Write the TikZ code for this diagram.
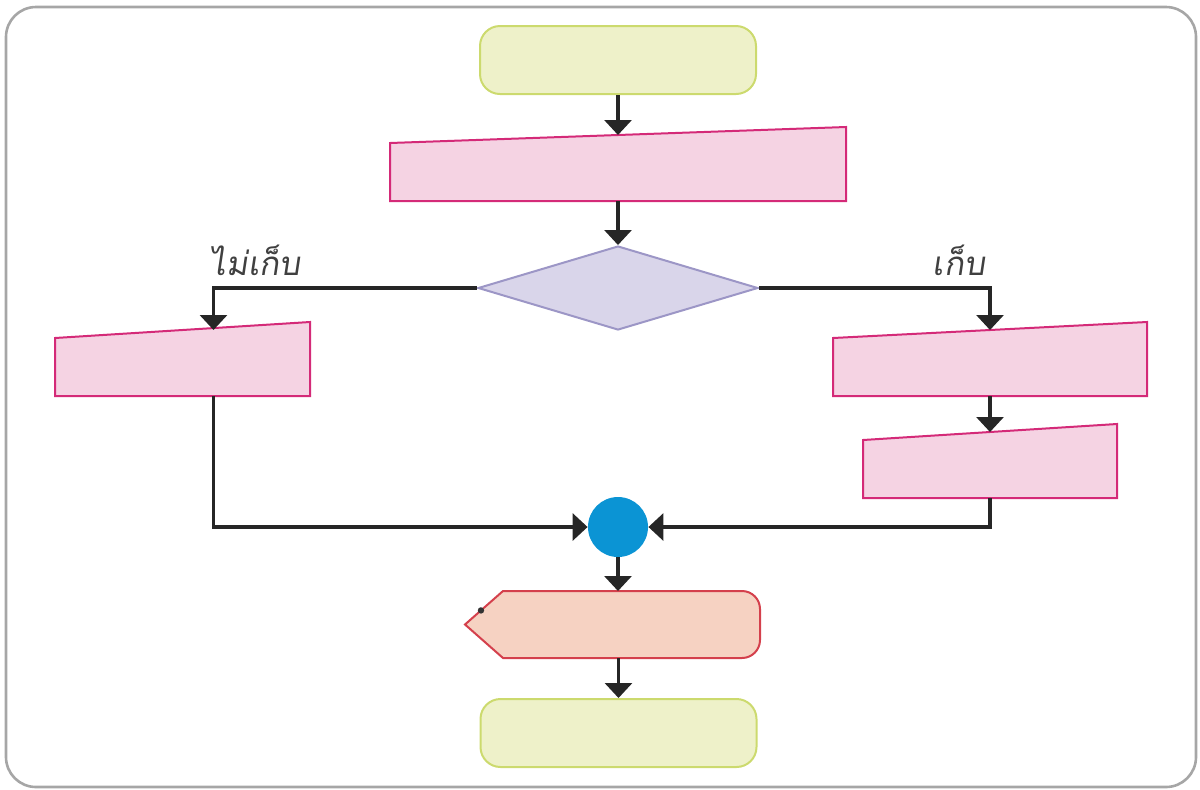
\documentclass[tikz,border=0pt]{standalone}
\usepackage{fontspec}
\newfontfamily\thaifont[Script=Thai,FakeSlant=0.15]{Loma}
\usetikzlibrary{positioning,calc,shapes.geometric,arrows.meta}
\definecolor{termfill}{HTML}{EEF1C9}
\definecolor{termline}{HTML}{CCDA6E}
\definecolor{infill}{HTML}{F5D3E3}
\definecolor{inline}{HTML}{D42A78}
\definecolor{decfill}{HTML}{D9D5EA}
\definecolor{decline}{HTML}{9C96C6}
\definecolor{jointfill}{HTML}{0B94D4}
\definecolor{showfill}{HTML}{F6D2C2}
\definecolor{showline}{HTML}{D4404C}
\tikzset{node distance=20pt,
	frame/.style={draw=gray!70,line width=1.3pt,rounded corners=15pt},
	terminal/.style={draw=termline,fill=termfill,line width=1pt,rounded corners=10pt,minimum width=138pt,minimum height=34pt},
	inbox/.style={minimum height=33pt,inner sep=0pt,outer sep=0pt},
	inshape/.style={draw=inline,fill=infill,line width=1pt},
	decision/.style={diamond,draw=decline,fill=decfill,line width=1pt,minimum width=140pt,minimum height=42pt,inner sep=0pt},
	joint/.style={circle,fill=jointfill,minimum size=30pt,inner sep=0pt},
	showbox/.style={minimum width=147.5pt,minimum height=33.5pt,inner sep=0pt,outer sep=0pt},
	showshape/.style={draw=showline,fill=showfill,line width=1pt},
	arr/.style={draw=black!85,line width=1.6pt,-{Triangle[width=13.5pt,length=7.5pt]}},
	lbl/.style={font=\thaifont\fontsize{16.5}{20}\selectfont,text=black!75,anchor=base}}
\newcommand{\slanted}[1]{\path[inshape] (#1.south west) -- (#1.south east) -- ($(#1.north east)+(0,-8)$) -- ($(#1.north west)+(0,8)$) -- cycle;}
\begin{document}
\begin{tikzpicture}[x=0.5pt,y=-0.5pt]
				\useasboundingbox (0,0) rectangle (1200,789);
				\draw[frame] (6,7) rectangle (1196,787);

				\node[terminal] (start) at (618,60) {};
				\node[inbox,minimum width=228pt] (read) [below=of start] {};
				\node[decision] (keep) [below=22pt of read] {};
				\node[inbox,minimum width=127.5pt] (skip) at (182.5,363) {};
				\node[inbox,minimum width=157pt] (save) at (990,363) {};
				\node[inbox,minimum width=127pt] (count) [below=18pt of save] {};
				\node[joint] (join) at (618,527) {};
				\node[showbox] (show) at (612.5,624.5) {};
				\node[terminal] (stop) [below=of show,xshift=3pt] {};

				\slanted{read}
				\slanted{skip}
				\slanted{save}
				\slanted{count}

				\coordinate (showtip) at ($(show.north west)+(38,0)$);
				\path[showshape] (show.west) -- (showtip) [rounded corners=9pt] -- (show.north east) -- (show.south east) [sharp corners] -- ($(show.south west)+(38,0)$) -- cycle;
				\fill[black!80] ($(show.west)!0.42!(showtip)$) circle (1.6pt);

				\node[lbl] (nolbl) at (255,275) {ไม่เก็บ};
				\node[lbl] (yeslbl) at (959,275) {เก็บ};

				\draw[arr] (start.south) -- (start.south |- read.north);
				\draw[arr] (read.south -| keep.north) -- (keep.north);
				\draw[arr] (keep.west) -| ($(skip.north)+(31,0)$);
				\draw[arr] (keep.east) -| (save.north);
				\draw[arr] (save.south) -- (count.north);
				\draw[arr] ($(skip.south)+(31,0)$) |- (join.west);
				\draw[arr] (count.south) |- (join.east);
				\draw[arr] (join.south) -- (join.south |- show.north);
				\draw[arr] (stop.north |- show.south) -- (stop.north);

			\end{tikzpicture}
\end{document}
